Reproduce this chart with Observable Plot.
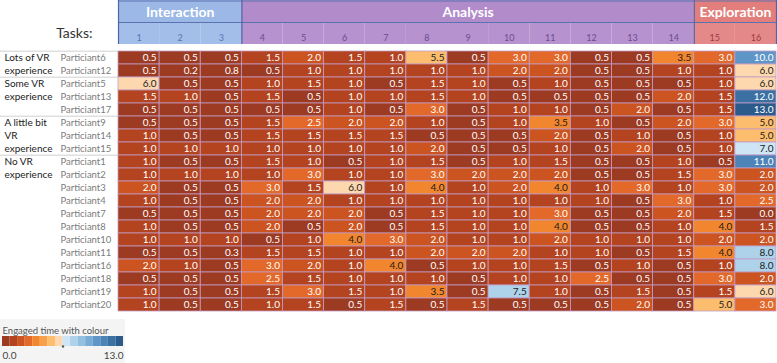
<!DOCTYPE html>
<html><head><meta charset="utf-8">
<script src="https://cdn.jsdelivr.net/npm/d3@7"></script>
<script src="https://cdn.jsdelivr.net/npm/@observablehq/plot@0.6"></script>
<style>
body{margin:0;background:#fff;font-family:Lato,"Open Sans",sans-serif;}
#wrap{width:777px;height:363px;position:relative;overflow:hidden;background:#fff}
#wrap svg{display:block;overflow:visible;position:absolute;left:0}
</style></head><body><div id="wrap"></div>
<script>
const tasks = ["1","2","3","4","5","6","7","8","9","10","11","12","13","14","15","16"];
const participants = ["Particiant6","Particiant12","Particiant5","Particiant13","Particiant17","Particiant9","Particiant14","Particiant15","Particiant1","Particiant2","Particiant3","Particiant4","Particiant7","Particiant8","Particiant10","Particiant11","Particiant16","Particiant18","Particiant19","Particiant20"];
const values = [
  [0.5,0.5,0.5,1.5,2.0,1.5,1.0,5.5,0.5,3.0,3.0,0.5,0.5,3.5,3.0,10.0],
  [0.5,0.2,0.8,0.5,1.0,1.0,1.0,1.0,1.0,2.0,2.0,0.5,0.5,1.0,1.0,6.0],
  [6.0,0.5,0.5,1.0,1.5,1.0,0.5,1.5,1.0,0.5,1.0,0.5,0.5,0.5,1.0,6.0],
  [1.5,1.0,0.5,1.5,0.5,1.0,1.0,1.5,1.0,0.5,0.5,0.5,0.5,2.0,1.5,12.0],
  [0.5,0.5,0.5,0.5,0.5,1.0,0.5,3.0,0.5,1.0,1.0,0.5,2.0,0.5,1.5,13.0],
  [0.5,0.5,0.5,1.5,2.5,2.0,2.0,1.0,0.5,1.0,3.5,1.0,0.5,2.0,3.0,5.0],
  [1.0,0.5,0.5,1.5,1.5,1.5,1.5,0.5,0.5,0.5,2.0,0.5,1.0,0.5,1.0,5.0],
  [1.0,1.0,1.0,1.0,1.0,1.0,1.0,2.0,0.5,0.5,1.0,0.5,2.0,0.5,1.0,7.0],
  [1.0,0.5,0.5,1.5,1.0,0.5,1.0,1.5,0.5,1.0,1.5,0.5,0.5,1.0,0.5,11.0],
  [1.0,1.0,1.0,1.0,3.0,1.0,1.0,3.0,2.0,2.0,2.0,0.5,0.5,1.5,3.0,2.0],
  [2.0,0.5,0.5,3.0,1.5,6.0,1.0,4.0,1.0,2.0,4.0,1.0,3.0,1.0,3.0,2.0],
  [1.0,0.5,0.5,2.0,2.0,1.0,1.0,1.0,1.0,1.0,1.0,1.0,0.5,3.0,1.0,2.5],
  [0.5,0.5,0.5,2.0,2.0,2.0,0.5,1.5,1.0,1.0,3.0,0.5,0.5,2.0,1.5,0.0],
  [1.0,0.5,0.5,2.0,0.5,2.0,0.5,1.5,1.0,1.0,4.0,0.5,0.5,1.0,4.0,1.5],
  [1.0,1.0,1.0,0.5,1.0,4.0,3.0,2.0,1.0,1.0,2.0,1.0,1.0,1.0,2.0,2.0],
  [0.5,0.5,0.3,1.5,1.5,1.0,1.0,2.0,2.0,2.0,1.0,1.0,0.5,1.5,4.0,8.0],
  [2.0,1.0,0.5,3.0,2.0,1.0,4.0,0.5,1.0,1.0,1.5,0.5,1.0,0.5,1.0,8.0],
  [0.5,0.5,0.5,2.5,1.5,1.0,1.0,1.0,0.5,1.0,1.0,2.5,0.5,0.5,3.0,2.0],
  [1.0,0.5,0.5,1.5,3.0,1.5,1.0,3.5,0.5,7.5,1.0,0.5,1.5,0.5,1.5,6.0],
  [1.0,0.5,0.5,1.0,1.5,0.5,1.5,0.5,1.5,0.5,0.5,0.5,2.0,0.5,5.0,3.0]
];
const groupNames = ["Lots of VR experience","Some VR experience","A little bit VR experience","No VR experience"];
const groupLines = [["Lots of VR","experience"],["Some VR","experience"],["A little bit","VR","experience"],["No VR","experience"]];
const groupFirst = ["Particiant6","Particiant5","Particiant9","Particiant1"];
const stageNames = ["Interaction","Analysis","Exploration"];
const stageStart = [1,4,15];
const stageEnd = [3,14,16];
const stageFill = ["#9cb8e6","#b18bca","#e27f7d"];
const stageNumFill = ["#a3bee8","#b692ce","#e4898a"];
const stageNumText = ["#5576b8","#6d4c8e","#a03a44"];
const colorSteps = ["#9c3a22","#b4441f","#cc5420","#e2692a","#f2862f","#f9a04a","#fdbd6f","#fdd8ae","#cde5f4","#aed2ea","#92c0e0","#78acd5","#5e97c7","#4c84b8","#3b70a3","#2b5b8b"];
const legendMin = 0, legendMax = 13;

const W = 777, headerH = 44, bodyH = 273, left = 118, right = 1;
const rowH = bodyH / participants.length;
const font = "Lato, 'Open Sans', sans-serif";
const wrap = document.getElementById("wrap");

function stageOf(ti){ return stageStart.findIndex((s,k)=> ti+1>=s && ti+1<=stageEnd[k]); }

// ---------- header ----------
const stageData = stageNames.map((name,k)=>({name,k,x1:stageStart[k]-1,x2:stageEnd[k]}));
const taskData = tasks.map((t,i)=>({t,i,k:stageOf(i)}));
const header = Plot.plot({
  width: W, height: headerH, marginLeft: left, marginRight: right, marginTop: 0, marginBottom: 0,
  style: {fontFamily: font, background: "transparent"},
  x: {type: "linear", domain: [0, tasks.length], axis: null},
  y: {type: "band", domain: ["stage","num"], padding: 0, axis: null},
  marks: [
    Plot.barX(stageData, {x1: "x1", x2: "x2", y: () => "stage", fill: d => stageFill[d.k]}),
    Plot.barX(taskData, {x1: d => d.i, x2: d => d.i + 1, y: () => "num", fill: d => stageNumFill[d.k]}),
    Plot.text(stageData, {x: d => (d.x1 + d.x2) / 2, y: () => "stage", text: "name", fill: "white", fontWeight: "bold", fontSize: 14, dy: 1}),
    Plot.text(taskData, {x: d => d.i + 0.5, y: () => "num", text: "t", fill: d => stageNumText[d.k], fontSize: 9, dy: 4.5}),
    Plot.ruleY(["num"], {y: d => d, dy: -headerH / 4, stroke: "#5a72b0", strokeWidth: 1}),
    Plot.ruleY(["stage"], {y: d => d, dy: -headerH / 4 + 0.5, stroke: "#5a72b0", strokeWidth: 1}),
    Plot.ruleX(stageStart.map(s => s - 1).concat([tasks.length]), {x: d => d, stroke: "#4f64a6", strokeWidth: 1.2}),
    Plot.text(["Tasks:"], {x: 0, y: () => "num", text: d => d, textAnchor: "end", dx: -26, dy: 0, fontSize: 14, fill: "#333"})
  ]
});
header.style.top = "0px";
wrap.appendChild(header);

// ---------- body ----------
const cells = [];
participants.forEach((p, r) => values[r].forEach((v, i) => cells.push({p, i, v})));
const groupLabelData = [];
groupLines.forEach((lines, g) => {
  const r0 = participants.indexOf(groupFirst[g]);
  lines.forEach((txt, j) => groupLabelData.push({p: participants[r0 + j], txt}));
});
const body = Plot.plot({
  width: W, height: bodyH, marginLeft: left, marginRight: right, marginTop: 0, marginBottom: 0,
  style: {fontFamily: font, background: "transparent"},
  x: {type: "linear", domain: [0, tasks.length], axis: null},
  y: {type: "band", domain: participants, padding: 0, axis: null},
  color: {type: "threshold", domain: d3.range(1, colorSteps.length).map(k => legendMin + k * (legendMax - legendMin) / colorSteps.length), range: colorSteps},
  marks: [
    Plot.barX(cells, {x1: d => d.i, x2: d => d.i + 1, y: "p", fill: "v", stroke: "#c29bc4", strokeWidth: 0.8}),
    Plot.text(cells, {x: d => d.i + 1, y: "p", text: d => d.v.toFixed(1), textAnchor: "end", dx: -3, fontSize: 10,
      fill: d => (d.v >= 3.25 && d.v <= 9) ? "#1b1b1b" : "white", fontWeight: d => (d.v >= 3.25 && d.v <= 9) ? 600 : 400}),
    Plot.text(participants, {x: 0, y: d => d, text: d => d, textAnchor: "start", dx: -58, fontSize: 9.5, fill: "#7b7b7b"}),
    Plot.text(groupLabelData, {x: 0, y: "p", text: "txt", textAnchor: "start", dx: -114, fontSize: 10, fill: "#222"}),
    Plot.ruleY(groupFirst, {y: d => d, dy: -rowH / 2, x1: -left / ((W - left - right) / tasks.length), x2: 0, stroke: "#d0d0d0", strokeWidth: 1})
  ]
});
body.style.top = headerH + "px";
wrap.appendChild(body);

// ---------- legend ----------
const legend = Plot.plot({
  width: 125, height: 44, marginLeft: 2, marginRight: 2, marginTop: 17, marginBottom: 17,
  style: {fontFamily: font, background: "#f4f4f4"},
  x: {type: "linear", domain: [0, colorSteps.length], axis: null},
  marks: [
    Plot.barX(colorSteps, {x1: (d, i) => i, x2: (d, i) => i + 1, fill: d => d}),
    Plot.dot([colorSteps.length / 2], {x: d => d, frameAnchor: "bottom", r: 1.2, fill: "#555"}),
    Plot.text(["Engaged time with colour"], {x: 0, frameAnchor: "top", text: d => d, textAnchor: "start", dy: -9, fontSize: 9.5, fill: "#555"}),
    Plot.text([legendMin.toFixed(1)], {x: 0, frameAnchor: "bottom", text: d => d, textAnchor: "start", dy: 12.5, fontSize: 10, fill: "#444"}),
    Plot.text([legendMax.toFixed(1)], {x: colorSteps.length, frameAnchor: "bottom", text: d => d, textAnchor: "end", dy: 12.5, fontSize: 10, fill: "#444"})
  ]
});
legend.style.top = (headerH + bodyH + 2) + "px";
wrap.appendChild(legend);
</script></body></html>
